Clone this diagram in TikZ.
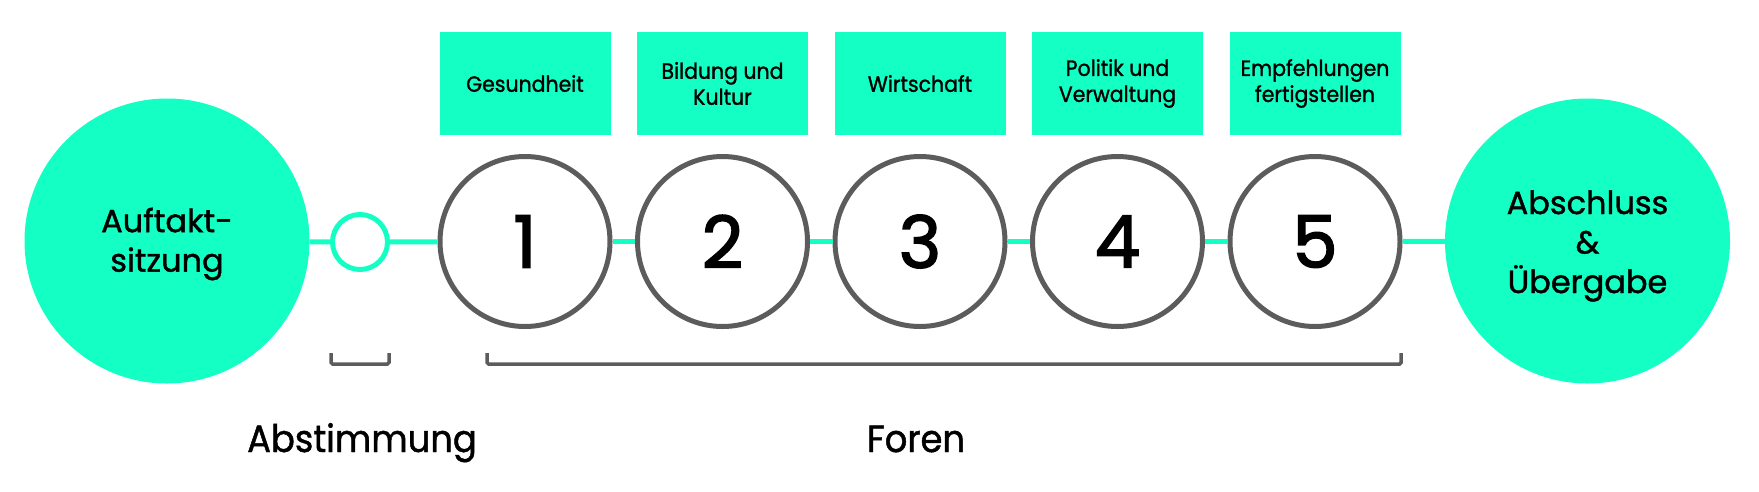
\documentclass[tikz,border=0pt]{standalone}
\usepackage{fontspec}
\setmainfont{Poppins}[FakeStretch=0.93, FakeBold=1.2]
\newfontfamily\bigfont{Poppins}[FakeBold=1.3]
\newfontfamily\digitfont{Poppins}[FakeBold=2.2]
\definecolor{mint}{HTML}{14FFC4}
\definecolor{ring}{HTML}{5C5C5C}
\tikzset{
  big/.style={circle, fill=mint, minimum size=285pt, inner sep=0pt, align=center,
    font=\bigfont\fontsize{32}{39}\selectfont},
  bigtext/.style={align=center, inner sep=0pt, font=\bigfont\fontsize{32}{39.5}\selectfont},
  small/.style={circle, draw=mint, line width=5pt, fill=white, minimum size=55pt, inner sep=0pt},
  forum/.style={circle, draw=ring, line width=5pt, fill=white, minimum size=170pt, inner sep=0pt,
    font=\digitfont\fontsize{72}{72}\selectfont},
  topic/.style={rectangle, fill=mint, minimum width=171pt, minimum height=103pt, inner sep=0pt,
    align=center, font=\fontsize{22}{26}\selectfont},
  link/.style={draw=mint, line width=5pt},
  brace/.style={draw=ring, line width=3.5pt, rounded corners=1.5pt},
  caption/.style={font=\fontsize{38}{40}\selectfont, anchor=base}
}
\begin{document}
\begin{tikzpicture}[x=1pt, y=-1pt]
\useasboundingbox (0,0) rectangle (1759,491);
\node[big] (start) at (167,241) {};
\node[bigtext] (startlab) at (167,244) {Auftakt-\\sitzung};
\node[big] (end) at (1587.5,241) {};
\node[bigtext] (endlab) at (1587.5,246) {Abschluss\\\&\\Übergabe};
\node[small] (abst) at (360,242) {};
\node[forum] (f1) at (525,241.5) {1};
\node[forum] (f2) at (722.5,241.5) {2};
\node[forum] (f3) at (920,241.5) {3};
\node[forum] (f4) at (1117.5,241.5) {4};
\node[forum] (f5) at (1315,241.5) {5};
\node[topic] (t1) at (525,83.5) {Gesundheit};
\node[topic] (t2) at (722.5,83.5) {Bildung und\\Kultur};
\node[topic] (t3) at (920,83.5) {Wirtschaft};
\node[topic] (t4) at (1117.5,83.5) {Politik und\\Verwaltung};
\node[topic] (t5) at (1315,83.5) {Empfehlungen\\fertigstellen};
\path[link] (start) -- (abst);
\path[link] (abst) -- (f1);
\path[link] (f1) -- (f2);
\path[link] (f2) -- (f3);
\path[link] (f3) -- (f4);
\path[link] (f4) -- (f5);
\path[link] (f5) -- (end);
\coordinate (b1a) at (331,353);
\coordinate (b1b) at (389,353);
\coordinate (b2a) at (487,353);
\coordinate (b2b) at (1401,353);
\draw[brace] (b1a) -- ++(0,11) -| (b1b);
\draw[brace] (b2a) -- ++(0,11) -| (b2b);
\node[caption] (labA) at (362,452) {Abstimmung};
\node[caption] (labF) at (916,452) {Foren};
\end{tikzpicture}
\end{document}
